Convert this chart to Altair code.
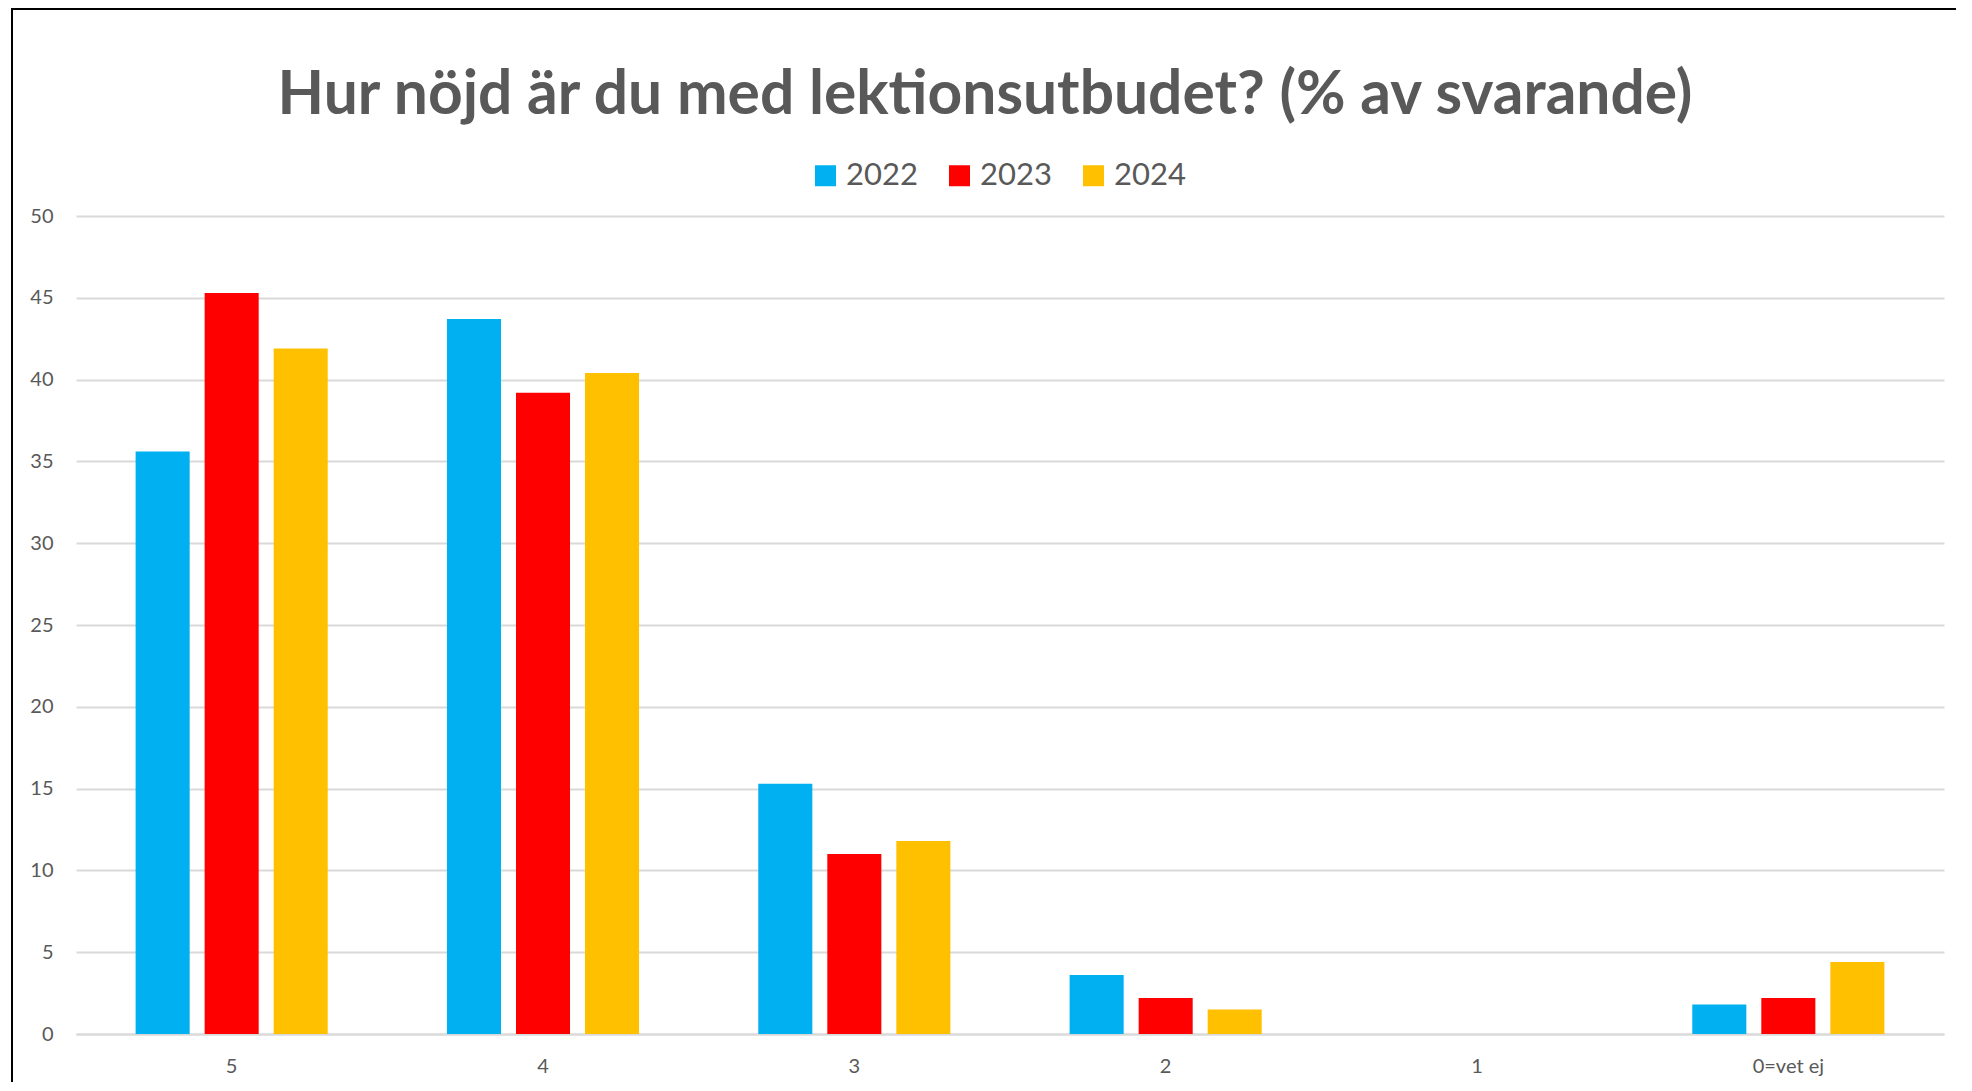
import altair as alt
import pandas as pd

categories = ["5", "4", "3", "2", "1", "0=vet ej"]
years = ["2022", "2023", "2024"]
values_2022 = [35.6, 43.7, 15.3, 3.6, 0.0, 1.8]
values_2023 = [45.3, 39.2, 11.0, 2.2, 0.0, 2.2]
values_2024 = [41.9, 40.4, 11.8, 1.5, 0.0, 4.4]
colors = ["#00B0F0", "#FF0000", "#FFC000"]
y_ticks = [0, 5, 10, 15, 20, 25, 30, 35, 40, 45, 50]
title_text = "Hur nöjd är du med lektionsutbudet? (% av svarande)"

rows = []
for yr, vals in zip(years, [values_2022, values_2023, values_2024]):
    for c, v in zip(categories, vals):
        rows.append({"kategori": c, "år": yr, "procent": v})
df = pd.DataFrame(rows)

FONT = "Lato"
GREY = "#595959"

bars = alt.Chart(df).mark_bar().encode(
    x=alt.X("kategori:N", sort=categories,
            scale=alt.Scale(paddingInner=0.383, paddingOuter=0.1915),
            axis=alt.Axis(title=None, labelAngle=0, labelFontSize=20, labelFont=FONT,
                          labelColor=GREY, ticks=False, domain=True, grid=False,
                          domainColor="#d9d9d9", domainWidth=2, labelPadding=22)),
    xOffset=alt.XOffset("år:N", sort=years,
                        scale=alt.Scale(paddingInner=0.217, paddingOuter=0)),
    y=alt.Y("procent:Q", scale=alt.Scale(domain=[0, 50], nice=False),
            axis=alt.Axis(title=None, values=y_ticks, labelFontSize=20, labelFont=FONT,
                          labelColor=GREY, ticks=False, domain=False, labelPadding=23,
                          gridColor="#d9d9d9", gridWidth=2)),
    color=alt.Color("år:N", sort=years,
                    scale=alt.Scale(domain=years, range=colors),
                    legend=alt.Legend(title=None, orient="none", direction="horizontal",
                                      legendX=734, legendY=-56, padding=0,
                                      symbolType="square", symbolSize=441,
                                      symbolStrokeWidth=0, labelFontSize=31,
                                      labelFont=FONT, labelColor=GREY,
                                      labelOffset=5, columnPadding=26)),
)

frame = alt.Chart(pd.DataFrame({"f": [0]})).mark_rect(
    fill=None, stroke="black", strokeWidth=2, clip=False
).encode(
    x=alt.value(-64), x2=alt.value(3000), y=alt.value(-207), y2=alt.value(3000)
)

chart = alt.layer(frame, bars).properties(
    width=1868,
    height=818,
    padding={"left": 68, "top": 208, "right": 12, "bottom": 48},
    autosize=alt.AutoSizeParams(type="none"),
    title=alt.TitleParams(title_text, font=FONT, fontSize=60.5, fontWeight="bold",
                          color=GREY, anchor="middle", frame="group",
                          baseline="alphabetic", offset=-166, dx=-25),
).configure(background="white").configure_view(strokeWidth=0, stroke="transparent")

chart.save("out.html", embed_options={"renderer": "svg", "actions": False})
